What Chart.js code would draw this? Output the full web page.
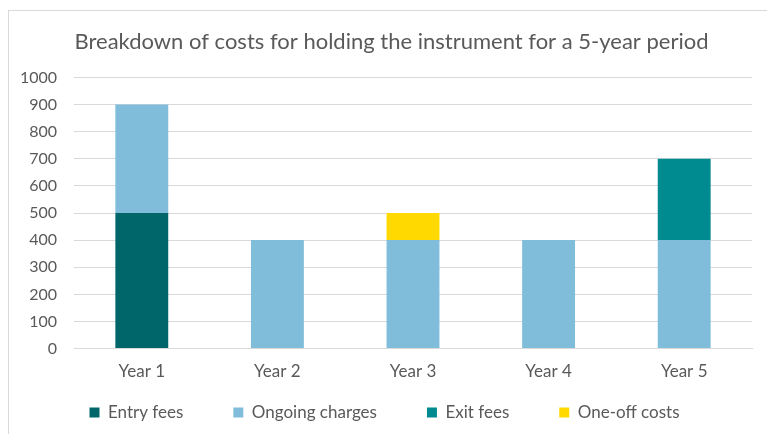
<!DOCTYPE html>
<html>
<head>
<meta charset="utf-8">
<script src="https://cdn.jsdelivr.net/npm/chart.js@4/dist/chart.umd.min.js"></script>
<style>
  body { margin: 0; background: #fff; overflow: hidden; }
  #box {
    position: absolute; left: 8px; top: 10px;
    width: 770px; height: 470px;
    border: 1px solid #d9d9d9;
  }
  #wrap { position: absolute; left: 0; top: 0; width: 758px; height: 461px; }
</style>
</head>
<body>
<div id="box"><div id="wrap"><canvas id="costChart"></canvas></div></div>
<script>
// Chart data
const years = ['Year 1', 'Year 2', 'Year 3', 'Year 4', 'Year 5'];
const entryFees = [500, 0, 0, 0, 0];
const ongoingCharges = [400, 400, 400, 400, 400];
const exitFees = [0, 0, 0, 0, 300];
const oneOffCosts = [0, 0, 100, 0, 0];
const yTicks = [0, 100, 200, 300, 400, 500, 600, 700, 800, 900, 1000];

const textColor = '#595959';
const fontFamily = 'Lato, "Open Sans", sans-serif';

// legend items are widely spaced, so pull the legend up after layout;
// the title sits a little right of the canvas centre
const boxShift = {
    id: 'boxShift',
    afterLayout(chart) {
        const lg = chart.legend;
        lg.top -= 41;
        lg.bottom -= 41;
        const tb = chart.titleBlock;
        tb.left += 7;
        tb.right += 7;
    }
};

const ctx = document.getElementById('costChart').getContext('2d');
new Chart(ctx, {
    type: 'bar',
    data: {
        labels: years,
        datasets: [
            { label: 'Entry fees', data: entryFees, backgroundColor: '#00666a' },
            { label: 'Ongoing charges', data: ongoingCharges, backgroundColor: '#7fbddb' },
            { label: 'Exit fees', data: exitFees, backgroundColor: '#008b91' },
            { label: 'One-off costs', data: oneOffCosts, backgroundColor: '#ffd900' }
        ]
    },
    plugins: [boxShift],
    options: {
        responsive: true,
        maintainAspectRatio: false,
        animation: false,
        categoryPercentage: 0.39,
        barPercentage: 1.0,
        layout: { padding: { left: 8, right: 15, top: 8, bottom: 0 } },
        plugins: {
            title: {
                display: true,
                text: 'Breakdown of costs for holding the instrument for a 5-year period',
                color: textColor,
                font: { family: fontFamily, size: 22, weight: 'normal' },
                padding: { top: 10, bottom: 22 }
            },
            legend: {
                position: 'bottom',
                labels: {
                    color: textColor,
                    boxWidth: 10,
                    boxHeight: 10,
                    padding: 50,
                    font: { family: fontFamily, size: 17 }
                }
            },
            tooltip: { enabled: false }
        },
        scales: {
            x: {
                stacked: true,
                grid: { display: false, drawTicks: false },
                border: { color: '#d9d9d9' },
                ticks: { color: textColor, font: { family: fontFamily, size: 17 }, padding: 13 },
                afterFit: axis => { axis.paddingLeft = 0; axis.paddingRight = 0; }
            },
            y: {
                stacked: true,
                min: 0,
                max: 1000,
                afterBuildTicks: axis => { axis.ticks = yTicks.map(v => ({ value: v })); },
                afterFit: axis => { axis.width = 57; },
                grid: { color: '#d9d9d9', drawTicks: false },
                border: { display: false },
                ticks: {
                    color: textColor,
                    font: { family: fontFamily, size: 16 },
                    padding: 17,
                    callback: v => String(v)
                }
            }
        }
    }
});
</script>
</body>
</html>
